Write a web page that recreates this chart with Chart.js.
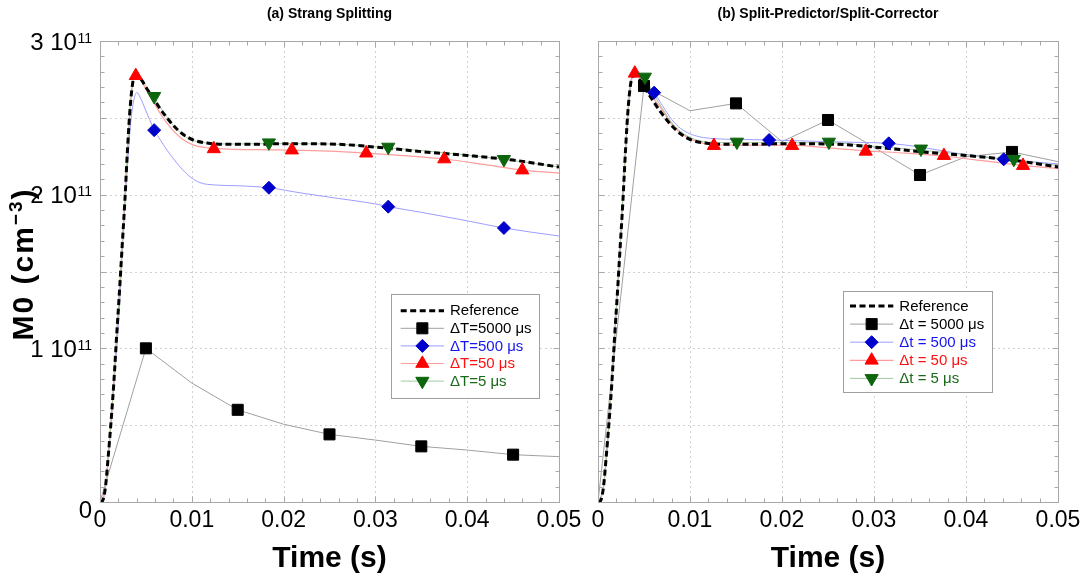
<!DOCTYPE html>
<html><head><meta charset="utf-8">
<script src="https://cdn.jsdelivr.net/npm/chart.js@4/dist/chart.umd.min.js"></script>
<style>
html,body{margin:0;padding:0;background:#fff;width:1090px;height:583px;overflow:hidden;}
#c1{position:absolute;left:0;top:0;}
#c2{position:absolute;left:575px;top:0;}
</style></head><body>
<canvas id="c1" width="590" height="583" style="width:590px;height:583px"></canvas>
<canvas id="c2" width="515" height="583" style="width:515px;height:583px"></canvas>
<script>
// ===== DATA (time in s, M0 in units of 1e11 cm^-3) =====
const xTickValues = [0, 0.01, 0.02, 0.03, 0.04, 0.05];
const yTickValues = [0, 1, 2, 3];
const yTickMantissa = ['0', '1 10', '2 10', '3 10'];
const yTickExponent = ['', '11', '11', '11'];
const yGridValues = [0.5, 1, 1.5, 2, 2.5];
const panelTitles = ['(a) Strang Splitting', '(b) Split-Predictor/Split-Corrector'];
const xAxisTitle = 'Time (s)';
const yAxisTitle = ['M0 (cm', '\u22123', ')'];
const legendStrang = ['Reference', '\u0394T=5000 \u03bcs', '\u0394T=500 \u03bcs', '\u0394T=50 \u03bcs', '\u0394T=5 \u03bcs'];
const legendSPSC = ['Reference', '\u0394t = 5000 \u03bcs', '\u0394t = 500 \u03bcs', '\u0394t = 50 \u03bcs', '\u0394t = 5 \u03bcs'];

// Reference solution (both panels)
const refT = [0,0.0003,0.0006,0.0009,0.0012,0.0015,0.0018,0.0021,0.0024,0.0027,0.003,0.0033,0.0036,0.0039,0.0042,0.0046,0.005,0.0055,0.006,0.0066,0.0073,0.008,0.009,0.0102,0.0118,0.014,0.017,0.02,0.025,0.03,0.035,0.04,0.045,0.05];
const refV = [0,0.01,0.1,0.3,0.52,0.77,1.07,1.35,1.65,1.95,2.3,2.58,2.74,2.775,2.77,2.74,2.70,2.655,2.61,2.555,2.50,2.45,2.395,2.355,2.335,2.328,2.328,2.332,2.33,2.31,2.28,2.255,2.225,2.18];

// (a) Strang splitting
const strang5000T = [0,0.005,0.01,0.015,0.02,0.025,0.03,0.035,0.04,0.045,0.05];
const strang5000V = [0,1.0,0.774,0.6,0.506,0.44,0.403,0.362,0.338,0.308,0.295];
const strang5000MarkT = [0.005,0.015,0.025,0.035,0.045];
const strang5000MarkV = [1.0,0.6,0.44,0.362,0.308];

const strang500T = [0,0.0005,0.001,0.0015,0.002,0.0025,0.003,0.0034,0.0037,0.004,0.0044,0.0049,0.0054,0.0059,0.0066,0.0073,0.0087,0.0098,0.0109,0.0125,0.015,0.0184,0.022,0.026,0.03,0.0314,0.035,0.04,0.044,0.05];
const strang500V = [0,0.06,0.36,0.76,1.15,1.72,2.2,2.5,2.62,2.665,2.63,2.56,2.49,2.42,2.354,2.29,2.182,2.117,2.078,2.063,2.058,2.045,2.01,1.975,1.94,1.922,1.885,1.83,1.783,1.731];
const strang500MarkT = [0.0059,0.0184,0.0314,0.044];
const strang500MarkV = [2.42,2.045,1.922,1.783];

const strang50T = [0,0.0003,0.0006,0.0009,0.0012,0.0015,0.0018,0.0021,0.0024,0.0027,0.003,0.0033,0.0036,0.0039,0.0042,0.0046,0.005,0.0055,0.006,0.0066,0.0073,0.008,0.009,0.0102,0.0118,0.014,0.017,0.0209,0.025,0.029,0.0335,0.0375,0.042,0.046,0.05];
const strang50V = [0,0.01,0.1,0.3,0.52,0.77,1.07,1.35,1.65,1.95,2.3,2.58,2.74,2.775,2.765,2.73,2.685,2.635,2.585,2.525,2.465,2.415,2.36,2.322,2.304,2.297,2.293,2.29,2.283,2.27,2.252,2.232,2.195,2.16,2.14];
const strang50MarkT = [0.0039,0.0124,0.0209,0.029,0.0375,0.046];
const strang50MarkV = [2.774,2.298,2.29,2.27,2.232,2.16];

const strang5T = [0,0.0006,0.0012,0.0018,0.0024,0.003,0.0035,0.0039,0.0045,0.0052,0.0059,0.007,0.008,0.0095,0.0115,0.0145,0.0184,0.025,0.0314,0.038,0.044,0.05];
const strang5V = [0,0.1,0.52,1.07,1.65,2.3,2.7,2.775,2.75,2.69,2.63,2.53,2.45,2.37,2.337,2.33,2.332,2.33,2.305,2.27,2.23,2.18];
const strang5MarkT = [0.0059,0.0184,0.0314,0.044];
const strang5MarkV = [2.64,2.338,2.31,2.23];

// (b) Split-predictor / split-corrector
const spsc5000T = [0,0.005,0.01,0.015,0.02,0.025,0.03,0.035,0.04,0.045,0.05];
const spsc5000V = [0,2.707,2.546,2.594,2.345,2.486,2.308,2.128,2.247,2.278,2.215];
const spsc5000MarkT = [0.005,0.015,0.025,0.035,0.045];
const spsc5000MarkV = [2.707,2.594,2.486,2.128,2.278];

const spsc500T = [0,0.0006,0.0012,0.0018,0.0024,0.003,0.0034,0.0038,0.0042,0.0047,0.0053,0.0061,0.007,0.008,0.009,0.0105,0.0125,0.015,0.0186,0.022,0.025,0.0285,0.0316,0.035,0.039,0.0441,0.047,0.05];
const spsc500V = [0,0.1,0.52,1.07,1.65,2.3,2.64,2.78,2.8,2.77,2.72,2.664,2.58,2.49,2.43,2.385,2.365,2.36,2.356,2.35,2.345,2.34,2.334,2.31,2.27,2.23,2.215,2.2];
const spsc500MarkT = [0.0061,0.0186,0.0316,0.0441];
const spsc500MarkV = [2.664,2.356,2.334,2.23];

const spsc50T = [0,0.0006,0.0012,0.0018,0.0024,0.003,0.0035,0.004,0.0046,0.0053,0.006,0.007,0.008,0.009,0.0105,0.0126,0.016,0.0211,0.025,0.0291,0.0335,0.0376,0.042,0.0462,0.05];
const spsc50V = [0,0.1,0.52,1.07,1.65,2.3,2.7,2.79,2.75,2.69,2.63,2.55,2.46,2.4,2.35,2.325,2.322,2.322,2.305,2.285,2.27,2.25,2.22,2.19,2.17];
const spsc50MarkT = [0.004,0.0126,0.0211,0.0291,0.0376,0.0462];
const spsc50MarkV = [2.79,2.319,2.319,2.282,2.254,2.189];

const spsc5T = [0,0.0006,0.0012,0.0018,0.0024,0.003,0.0035,0.004,0.0051,0.006,0.007,0.008,0.009,0.0105,0.0125,0.0151,0.02,0.0251,0.03,0.0351,0.04,0.0452,0.05];
const spsc5V = [0,0.1,0.52,1.07,1.65,2.3,2.7,2.785,2.76,2.66,2.56,2.47,2.41,2.36,2.34,2.338,2.338,2.338,2.315,2.29,2.26,2.225,2.19];
const spsc5MarkT = [0.0051,0.0151,0.0251,0.0351,0.0452];
const spsc5MarkV = [2.766,2.343,2.343,2.298,2.231];

// ===== STYLE =====
const FONT = "'Liberation Sans', Arial, Helvetica, sans-serif";
const S = {
  ref:  {line:'#000000', width:3, dash:[6,3.5], text:'#000000'},
  s5000:{line:'#a0a0a0', width:1, mark:'#000000', shape:'square', r:7.8, text:'#000000'},
  s500: {line:'#9d9dff', width:1, mark:'#0000cc', shape:'diamond', r:6.5, text:'#1515f0'},
  s50:  {line:'#ff9d9d', width:1.2, mark:'#ff0000', shape:'tri', r:7.6, text:'#ff1010'},
  s5:   {line:'#a3c9a3', width:1, mark:'#0d650d', shape:'itri', r:7.6, text:'#176a17'}
};
const pts = (T, V) => T.map((t, i) => ({x: t, y: V[i]}));
const chartStyle = {
  square: {pointStyle:'rect', rot:0},
  diamond:{pointStyle:'rectRot', rot:0},
  tri:    {pointStyle:'triangle', rot:0},
  itri:   {pointStyle:'triangle', rot:180}
};
function lineDs(T, V, st, order, smooth) {
  return {data: pts(T, V), borderColor: st.line, borderWidth: st.width, borderDash: st.dash || [],
    pointRadius: 0, fill: false, order: order,
    cubicInterpolationMode: smooth ? 'monotone' : 'default', tension: 0};
}
function markDs(T, V, st, order) {
  const cs = chartStyle[st.shape];
  return {data: pts(T, V), showLine: false, pointStyle: cs.pointStyle, pointRotation: cs.rot,
    pointRadius: st.r, pointBackgroundColor: st.mark, pointBorderColor: st.mark, pointBorderWidth: 1,
    order: order};
}

function drawMarker(ctx, shape, x, y, r, color) {
  ctx.save();
  ctx.fillStyle = color; ctx.strokeStyle = color; ctx.lineWidth = 1; ctx.setLineDash([]);
  ctx.beginPath();
  if (shape === 'square') { const s = Math.SQRT1_2 * r; ctx.rect(x - s, y - s, 2*s, 2*s); }
  else if (shape === 'diamond') { ctx.moveTo(x - r, y); ctx.lineTo(x, y - r); ctx.lineTo(x + r, y); ctx.lineTo(x, y + r); ctx.closePath(); }
  else {
    const sgn = shape === 'tri' ? 1 : -1;
    for (let k = 0; k < 3; k++) {
      const a = k * 2 * Math.PI / 3;
      const px = x + Math.sin(a) * r, py = y - sgn * Math.cos(a) * r;
      if (k === 0) ctx.moveTo(px, py); else ctx.lineTo(px, py);
    }
    ctx.closePath();
  }
  ctx.fill(); ctx.stroke();
  ctx.restore();
}

function panelPlugin(cfg) {
  return {
    id: 'panel' + cfg.key,
    beforeDatasetsDraw(chart) {
      const {ctx, chartArea: a, scales: {x, y}} = chart;
      ctx.save();
      ctx.strokeStyle = '#d0d0d0'; ctx.lineWidth = 1; ctx.setLineDash([2, 3]);
      ctx.beginPath();
      xTickValues.slice(1, -1).forEach(v => { const p = Math.round(x.getPixelForValue(v)) + 0.5; ctx.moveTo(p, a.top); ctx.lineTo(p, a.bottom); });
      yGridValues.forEach(v => { const p = Math.round(y.getPixelForValue(v)) + 0.5; ctx.moveTo(a.left, p); ctx.lineTo(a.right, p); });
      ctx.stroke();
      ctx.restore();
    },
    afterDraw(chart) {
      const {ctx, chartArea: a, scales: {x, y}} = chart;
      const L = Math.round(a.left) + 0.5, R = Math.round(a.right) + 0.5, T = Math.round(a.top) + 0.5, B = Math.round(a.bottom) + 0.5;
      ctx.save();
      // frame
      ctx.strokeStyle = '#a8a8a8'; ctx.lineWidth = 1; ctx.setLineDash([]);
      ctx.strokeRect(L, T, R - L, B - T);
      // inward ticks on all four sides
      ctx.beginPath();
      for (let i = 0; i <= 25; i++) {
        const v = i * 0.002, p = Math.round(x.getPixelForValue(v)) + 0.5, len = (i % 5 === 0) ? 6 : 4;
        ctx.moveTo(p, B); ctx.lineTo(p, B - len);
        ctx.moveTo(p, T); ctx.lineTo(p, T + len);
      }
      for (let i = 0; i <= 30; i++) {
        const v = i * 0.1, p = Math.round(y.getPixelForValue(v)) + 0.5, len = (i % 5 === 0) ? 6 : 4;
        ctx.moveTo(L, p); ctx.lineTo(L + len, p);
        ctx.moveTo(R, p); ctx.lineTo(R - len, p);
      }
      ctx.stroke();

      // panel title
      ctx.fillStyle = '#000';
      ctx.font = `bold 14px ${FONT}`; ctx.textAlign = 'center'; ctx.textBaseline = 'middle';
      ctx.fillText(cfg.title, (a.left + a.right) / 2, 14);
      // x title
      ctx.font = `bold 30px ${FONT}`;
      ctx.fillText(xAxisTitle, (a.left + a.right) / 2, 559);

      if (cfg.yLabels) {
        // y tick labels with exponent
        yTickValues.forEach((v, i) => {
          const py = y.getPixelForValue(v) + (v === 0 ? 7 : 0);
          const rightEdge = a.left - 8;
          ctx.textBaseline = 'alphabetic';
          let expW = 0;
          if (yTickExponent[i]) {
            ctx.font = `14px ${FONT}`; ctx.textAlign = 'left';
            expW = ctx.measureText(yTickExponent[i]).width;
            ctx.fillText(yTickExponent[i], rightEdge - expW, py + 1.5);
          }
          ctx.font = `24px ${FONT}`; ctx.textAlign = 'right';
          ctx.fillText(yTickMantissa[i], rightEdge - expW - (expW ? 0.5 : 0), py + 8.5);
        });
        // y axis title (rotated)
        ctx.save();
        ctx.translate(33, 264);
        ctx.rotate(-Math.PI / 2);
        try { ctx.letterSpacing = '2px'; } catch (e) {}
        const fMain = `bold 30px ${FONT}`, fSup = `bold 19px ${FONT}`;
        ctx.font = fMain; const w1 = ctx.measureText(yAxisTitle[0]).width, w3 = ctx.measureText(yAxisTitle[2]).width;
        ctx.font = fSup; const w2 = ctx.measureText(yAxisTitle[1]).width;
        let sx = -(w1 + w2 + w3) / 2;
        ctx.textAlign = 'left'; ctx.textBaseline = 'alphabetic';
        ctx.font = fMain; ctx.fillText(yAxisTitle[0], sx, 0); sx += w1;
        ctx.font = fSup; ctx.fillText(yAxisTitle[1], sx, -11); sx += w2;
        ctx.font = fMain; ctx.fillText(yAxisTitle[2], sx, 0);
        ctx.restore();
      }

      // legend
      const G = cfg.legend;
      ctx.fillStyle = '#fff'; ctx.fillRect(G.x, G.y, G.w, G.h);
      ctx.strokeStyle = '#a0a0a0'; ctx.lineWidth = 1;
      ctx.strokeRect(Math.round(G.x) + 0.5, Math.round(G.y) + 0.5, Math.round(G.w), Math.round(G.h));
      const keys = ['ref', 's5000', 's500', 's50', 's5'];
      keys.forEach((k, i) => {
        const st = S[k], ry = G.row0 + i * G.dy;
        ctx.save();
        ctx.strokeStyle = st.line; ctx.lineWidth = st.width; ctx.setLineDash(st.dash || []);
        ctx.beginPath(); ctx.moveTo(G.lx1, ry); ctx.lineTo(G.lx2, ry); ctx.stroke();
        ctx.restore();
        if (st.shape) drawMarker(ctx, st.shape, (G.lx1 + G.lx2) / 2, ry, st.r, st.mark);
        ctx.fillStyle = st.text; ctx.font = `15px ${FONT}`; ctx.textAlign = 'left'; ctx.textBaseline = 'middle';
        ctx.fillText(cfg.labels[i], G.tx, ry + 0.5);
      });
      ctx.restore();
    }
  };
}

function makeChart(id, datasets, cfg) {
  return new Chart(document.getElementById(id), {
    type: 'line',
    data: {datasets},
    options: {
      responsive: false, animation: false, devicePixelRatio: 1,
      layout: {padding: {top: 41, right: cfg.padRight, left: 0, bottom: 0}},
      plugins: {legend: {display: false}, tooltip: {enabled: false}, title: {display: false}},
      scales: {
        x: {type: 'linear', min: 0, max: 0.05,
          grid: {display: false, drawTicks: false}, border: {display: false},
          ticks: {stepSize: 0.01, autoSkip: false, maxRotation: 0, color: '#000', padding: 5,
            font: {family: FONT, size: 23},
            callback: v => String(Number(v.toFixed(3)))},
          afterFit: s => { s.height = 81; s.paddingLeft = 0; s.paddingRight = 0; }},
        y: {type: 'linear', min: 0, max: 3,
          grid: {display: false, drawTicks: false}, border: {display: false},
          ticks: {display: false, stepSize: 0.5},
          afterFit: s => { s.width = cfg.yWidth; s.paddingTop = 0; s.paddingBottom = 0; }}
      }
    },
    plugins: [panelPlugin(cfg)]
  });
}

makeChart('c1', [
  lineDs(strang5000T, strang5000V, S.s5000, 13, false),
  lineDs(strang500T, strang500V, S.s500, 12, true),
  lineDs(strang50T, strang50V, S.s50, 11, true),
  lineDs(strang5T, strang5V, S.s5, 10, true),
  lineDs(refT, refV, S.ref, 8, true),
  markDs(strang5000MarkT, strang5000MarkV, S.s5000, 4),
  markDs(strang500MarkT, strang500MarkV, S.s500, 3),
  markDs(strang50MarkT, strang50MarkV, S.s50, 2),
  markDs(strang5MarkT, strang5MarkV, S.s5, 1)
], {key: 'a', title: panelTitles[0], padRight: 31, yWidth: 100, yLabels: true, labels: legendStrang,
    legend: {x: 390.5, y: 294, w: 148, h: 103.5, row0: 310.7, dy: 17.6, lx1: 400.7, lx2: 444, tx: 450}});

makeChart('c2', [
  lineDs(spsc5000T, spsc5000V, S.s5000, 13, false),
  lineDs(spsc500T, spsc500V, S.s500, 12, true),
  lineDs(spsc50T, spsc50V, S.s50, 11, true),
  lineDs(spsc5T, spsc5V, S.s5, 10, true),
  lineDs(refT, refV, S.ref, 8, true),
  markDs(spsc5000MarkT, spsc5000MarkV, S.s5000, 4),
  markDs(spsc500MarkT, spsc500MarkV, S.s500, 3),
  markDs(spsc50MarkT, spsc50MarkV, S.s50, 2),
  markDs(spsc5MarkT, spsc5MarkV, S.s5, 1)
], {key: 'b', title: panelTitles[1], padRight: 32, yWidth: 23, yLabels: false, labels: legendSPSC,
    legend: {x: 843 - 575, y: 291, w: 149, h: 101, row0: 306, dy: 18.1, lx1: 850 - 575, lx2: 893.3 - 575, tx: 899.3 - 575}});
</script>
</body></html>
